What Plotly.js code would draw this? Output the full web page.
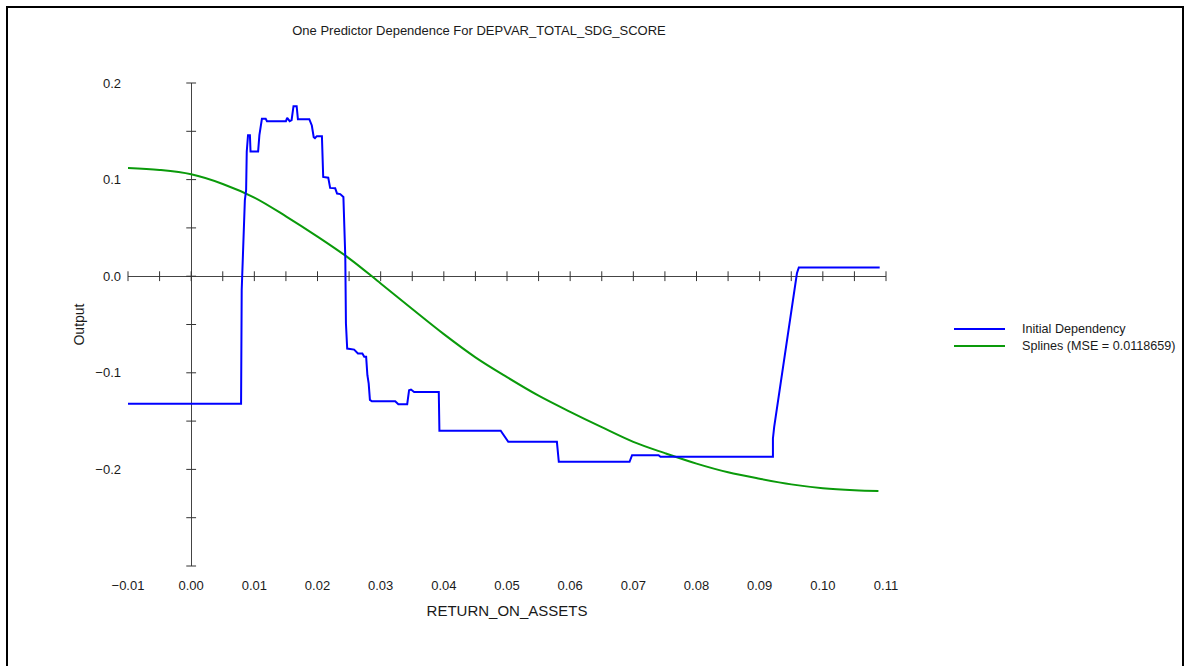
<!DOCTYPE html>
<html>
<head>
<meta charset="utf-8">
<script src="https://cdn.plot.ly/plotly-3.0.1.min.js"></script>
<style>
  html, body { margin: 0; padding: 0; background: #fff; }
  #chart { width: 1189px; height: 666px; }
</style>
</head>
<body>
<div id="chart"></div>
<script>
// Partial dependence of DEPVAR_TOTAL_SDG_SCORE on RETURN_ON_ASSETS

// Initial dependency (step-like curve)
const depX = [
  -0.0100, 0.0079, 0.0080, 0.0082, 0.0084, 0.0085, 0.0087, 0.0088,
  0.0090, 0.0093, 0.0094, 0.0106, 0.0108, 0.0111, 0.0112, 0.0118,
  0.0120, 0.0150, 0.0152, 0.0156, 0.0159, 0.0162, 0.0167, 0.0169,
  0.0187, 0.0191, 0.0194, 0.0196, 0.0199, 0.0207, 0.0209, 0.0217,
  0.0220, 0.0228, 0.0231, 0.0236, 0.0241, 0.0244, 0.0245, 0.0247,
  0.0258, 0.0264, 0.0271, 0.0274, 0.0277, 0.0279, 0.0281, 0.0283,
  0.0286, 0.0323, 0.0328, 0.0342, 0.0345, 0.0348, 0.0353, 0.0392,
  0.0393, 0.0490, 0.0502, 0.0579, 0.0582, 0.0694, 0.0698, 0.0740,
  0.0743, 0.0921, 0.0921, 0.0923, 0.0959, 0.0962, 0.1090
];
const depY = [
  -0.132, -0.132, -0.0145, 0.0342, 0.0549, 0.0787, 0.089, 0.129,
  0.146, 0.146, 0.129, 0.129, 0.146, 0.1615, 0.163, 0.163,
  0.1605, 0.1605, 0.164, 0.1605, 0.1615, 0.176, 0.176, 0.1625,
  0.1625, 0.156, 0.144, 0.143, 0.145, 0.145, 0.1028, 0.102,
  0.0914, 0.091, 0.0856, 0.085, 0.082, 0.020, -0.0487, -0.0749,
  -0.076, -0.080, -0.080, -0.0835, -0.0835, -0.1025, -0.111, -0.128,
  -0.1294, -0.1294, -0.1325, -0.1325, -0.118, -0.1173, -0.1198, -0.1198,
  -0.160, -0.160, -0.1715, -0.1715, -0.1922, -0.1922, -0.1853, -0.1853,
  -0.187, -0.187, -0.168, -0.156, 0.003, 0.009, 0.009
];

// Spline fit
const splineX = [
  -0.010, -0.005, 0.000, 0.005, 0.010, 0.015, 0.020, 0.025, 0.030,
  0.035, 0.040, 0.045, 0.050, 0.055, 0.060, 0.065, 0.070, 0.075,
  0.080, 0.085, 0.090, 0.095, 0.100, 0.105, 0.1088
];
const splineY = [
  0.112, 0.110, 0.1055, 0.0955, 0.0814, 0.062, 0.041, 0.0185, -0.0075,
  -0.034, -0.060, -0.084, -0.1045, -0.1237, -0.1404, -0.1563, -0.1715, -0.1832,
  -0.1940, -0.2030, -0.2097, -0.2155, -0.2194, -0.2215, -0.2223
];

const seriesNames = ['Initial Dependency', 'Splines (MSE = 0.0118659)'];
const seriesColors = ['#0000ff', '#0a9a0a'];

// Axis tick marks (crossing the zero lines) and labelled values
const xMinorTicks = [
  -0.010, -0.005, 0.000, 0.005, 0.010, 0.015, 0.020, 0.025, 0.030, 0.035,
  0.040, 0.045, 0.050, 0.055, 0.060, 0.065, 0.070, 0.075, 0.080, 0.085,
  0.090, 0.095, 0.100, 0.105, 0.110
];
const yMinorTicks = [0.20, 0.15, 0.10, 0.05, 0.00, -0.05, -0.10, -0.15, -0.20, -0.25, -0.30];
const xLabelVals = [-0.01, 0.00, 0.01, 0.02, 0.03, 0.04, 0.05, 0.06, 0.07, 0.08, 0.09, 0.10, 0.11];
const yLabelVals = [0.2, 0.1, 0.0, -0.1, -0.2];

const W = 1189, H = 666;
const M = { l: 128, r: 303, t: 83, b: 100 };
const plotW = W - M.l - M.r, plotH = H - M.t - M.b;
const px = v => (v - M.l) / plotW;          // pixel column -> paper x
const py = v => (H - M.b - v) / plotH;      // pixel row -> paper y

const FONT = 'Liberation Sans, Arial, Helvetica, sans-serif';
const TXT = '#1a1a1a';
const AXIS = '#444444';
const TICK = '#333333';

const traces = [
  {
    x: xMinorTicks, y: xMinorTicks.map(() => 0),
    mode: 'markers', cliponaxis: false, hoverinfo: 'skip', showlegend: false,
    marker: { symbol: 'line-ns-open', size: 7, color: TICK, line: { width: 1, color: TICK } }
  },
  {
    x: yMinorTicks.map(() => 0), y: yMinorTicks,
    mode: 'markers', cliponaxis: false, hoverinfo: 'skip', showlegend: false,
    marker: { symbol: 'line-ew-open', size: 7, color: TICK, line: { width: 1, color: TICK } }
  },
  {
    x: splineX, y: splineY, name: seriesNames[1],
    mode: 'lines', line: { color: seriesColors[1], width: 2, shape: 'spline', smoothing: 1 },
    cliponaxis: false, showlegend: false
  },
  {
    x: depX, y: depY, name: seriesNames[0],
    mode: 'lines', line: { color: seriesColors[0], width: 2 },
    cliponaxis: false, showlegend: false
  }
];

// Legend entries drawn beside the plot
const legendRows = [329, 346];
const shapes = [
  {
    type: 'rect', xref: 'paper', yref: 'paper',
    x0: px(7), x1: px(1183), y0: py(690), y1: py(7),
    line: { color: '#000', width: 2 }, fillcolor: 'rgba(0,0,0,0)', layer: 'above'
  }
];
const annotations = [];
seriesNames.forEach((name, i) => {
  shapes.push({
    type: 'line', xref: 'paper', yref: 'paper',
    x0: px(954), x1: px(1005), y0: py(legendRows[i]), y1: py(legendRows[i]),
    line: { color: seriesColors[i], width: 2 }
  });
  annotations.push({
    xref: 'paper', yref: 'paper', x: px(1020), y: py(legendRows[i]),
    xanchor: 'left', yanchor: 'middle', showarrow: false, text: name,
    font: { family: FONT, size: 12.6, color: TXT }
  });
});

const layout = {
  width: W, height: H,
  margin: M,
  paper_bgcolor: '#ffffff', plot_bgcolor: '#ffffff',
  showlegend: false,
  font: { family: FONT, size: 13, color: TXT },
  title: {
    text: 'One Predictor Dependence For DEPVAR_TOTAL_SDG_SCORE',
    xref: 'container', yref: 'container', x: 479 / W, y: 1 - 30 / H,
    xanchor: 'center', yanchor: 'middle',
    font: { family: FONT, size: 13, color: TXT }
  },
  xaxis: {
    range: [-0.01, 0.11], fixedrange: true,
    showgrid: false, showline: false, ticks: '',
    zeroline: true, zerolinecolor: AXIS, zerolinewidth: 1,
    tickmode: 'array', tickvals: xLabelVals, tickformat: '.2f',
    ticklabelstandoff: 10,
    tickfont: { family: FONT, size: 13, color: TXT },
    title: { text: 'RETURN_ON_ASSETS', standoff: 13, font: { family: FONT, size: 15, color: TXT } },
    automargin: false
  },
  yaxis: {
    range: [-0.3, 0.2], fixedrange: true,
    showgrid: false, showline: false, ticks: '',
    zeroline: true, zerolinecolor: AXIS, zerolinewidth: 1,
    tickmode: 'array', tickvals: yLabelVals, tickformat: '.1f',
    ticklabelstandoff: 6,
    tickfont: { family: FONT, size: 13, color: TXT },
    title: { text: 'Output', standoff: 7, font: { family: FONT, size: 14, color: TXT } },
    automargin: false
  },
  shapes: shapes,
  annotations: annotations
};

Plotly.newPlot('chart', traces, layout, { staticPlot: true, displayModeBar: false });
</script>
</body>
</html>
